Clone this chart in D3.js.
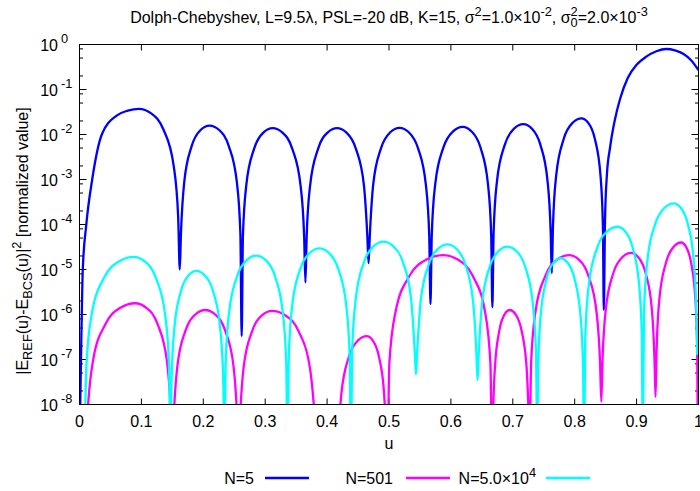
<!DOCTYPE html>
<html><head><meta charset="utf-8">
<script src="https://cdn.jsdelivr.net/npm/d3@7/dist/d3.min.js"></script>
<style>
body{margin:0;background:#fff}
svg{display:block}
text{font-family:"Liberation Sans",Arial,sans-serif;fill:#000}
</style>
</head><body>
<svg id="c" width="700" height="491"></svg>
<script>
// ---------- data ----------
const xTickValues = [0,0.1,0.2,0.3,0.4,0.5,0.6,0.7,0.8,0.9,1];
const xTickLabels = ["0","0.1","0.2","0.3","0.4","0.5","0.6","0.7","0.8","0.9","1"];
const yTickExponents = [0,-1,-2,-3,-4,-5,-6,-7,-8];
const yMinorMantissas = [2,5,8];
const seriesLabels = ["N=5","N=501","N=5.0×10^4"];
const seriesColors = ["#0000ff","#ff00ff","#00ffff"];

// N=5 : [u, |E_REF-E_BCS|^2]
const n5 = [
 [0.0,1e-9],[0.003,3.16e-7],[0.0053,1e-5],[0.011,1e-4],[0.0205,1e-3],[0.036,1e-2],[0.060,2.63e-2],[0.078,3.39e-2],[0.096,3.72e-2],
 [0.1158,2.95e-2],[0.1356,1.29e-2],[0.1521,2.04e-3],[0.1594,1.48e-4],[0.162,1e-5],
 [0.1639,6.31e-5],[0.1692,8.71e-4],[0.1812,5.50e-3],[0.1956,1.26e-2],[0.210,1.58e-2],[0.2256,1.26e-2],[0.2412,5.50e-3],[0.2542,8.71e-4],[0.2599,6.31e-5],[0.262,3.31e-7],
 [0.264,5.50e-5],[0.2695,7.59e-4],[0.282,4.79e-3],[0.297,1.10e-2],[0.312,1.38e-2],[0.3279,1.10e-2],[0.3438,4.79e-3],[0.357,7.59e-4],[0.3629,5.50e-5],[0.365,5.13e-6],
 [0.367,5.50e-5],[0.3727,7.59e-4],[0.3854,4.79e-3],[0.4007,1.10e-2],[0.416,1.38e-2],[0.4313,1.10e-2],[0.4466,4.79e-3],[0.4594,7.59e-4],[0.465,5.50e-5],[0.467,1.38e-5],
 [0.469,5.62e-5],[0.4745,7.76e-4],[0.487,4.90e-3],[0.502,1.12e-2],[0.517,1.41e-2],[0.532,1.12e-2],[0.547,4.90e-3],[0.5595,7.76e-4],[0.565,5.62e-5],[0.567,1.70e-6],
 [0.5691,5.89e-5],[0.5748,8.13e-4],[0.5878,5.13e-3],[0.6034,1.17e-2],[0.619,1.48e-2],[0.6334,1.17e-2],[0.6478,5.13e-3],[0.6598,8.13e-4],[0.6651,5.89e-5],[0.667,1.45e-6],
 [0.669,6.76e-5],[0.6745,9.33e-4],[0.687,5.89e-3],[0.702,1.35e-2],[0.717,1.70e-2],[0.7308,1.35e-2],[0.7446,5.89e-3],[0.7561,9.33e-4],[0.7612,6.76e-5],[0.763,8.32e-6],
 [0.7649,9.12e-5],[0.7702,1.26e-3],[0.7822,7.94e-3],[0.7966,1.82e-2],[0.811,2.29e-2],[0.8218,1.82e-2],[0.8326,7.94e-3],[0.8416,1.26e-3],[0.8456,9.12e-5],[0.847,1.26e-6],
 [0.849,1.26e-4],[0.852,1.26e-3],[0.857,5.01e-3],[0.8645,2.00e-2],[0.8735,6.31e-2],[0.8855,1.78e-1],[0.900,3.55e-1],[0.9156,5.37e-1],[0.932,7.08e-1],[0.948,7.94e-1],
 [0.962,7.41e-1],[0.976,6.17e-1],[0.988,4.47e-1],[1.0,2.69e-1]
];

// N=501
const n501 = [
 [0.010,1e-9],[0.0132,7.08e-9],[0.022,9.77e-8],[0.042,6.17e-7],[0.066,1.41e-6],[0.090,1.78e-6],[0.108,1.41e-6],[0.126,6.17e-7],[0.141,9.77e-8],[0.1476,7.08e-9],[0.150,1e-9],
 [0.1521,5.01e-9],[0.158,6.92e-8],[0.1712,4.37e-7],[0.1871,1e-6],[0.203,1.26e-6],[0.2192,1e-6],[0.2354,4.37e-7],[0.2489,6.92e-8],[0.2548,5.01e-9],[0.257,1e-9],
 [0.2592,4.79e-9],[0.2651,6.61e-8],[0.2786,4.17e-7],[0.2948,9.55e-7],[0.311,1.20e-6],[0.3326,9.55e-7],[0.3542,4.17e-7],[0.3722,6.61e-8],[0.3801,4.79e-9],[0.383,1e-9],
 [0.416,3.16e-10],[0.4179,1.32e-9],[0.4232,1.82e-8],[0.4352,1.15e-7],[0.4496,2.63e-7],[0.464,3.31e-7],[0.4739,2.63e-7],[0.4838,1.15e-7],[0.492,1.82e-8],[0.4957,1.32e-9],[0.497,3.16e-10],
 [0.5006,8.32e-8],[0.5106,1.15e-6],[0.5332,7.24e-6],[0.5604,1.66e-5],[0.5876,2.09e-5],[0.6114,1.66e-5],[0.6352,7.24e-6],[0.6551,1.15e-6],[0.6638,8.32e-8],[0.667,3.16e-10],
 [0.6681,5.01e-9],[0.6712,6.92e-8],[0.6782,4.37e-7],[0.6866,1e-6],[0.695,1.26e-6],[0.7046,1e-6],[0.7142,4.37e-7],[0.7222,6.92e-8],[0.7257,5.01e-9],[0.727,1e-9],
 [0.7296,8.32e-8],[0.7366,1.15e-6],[0.7526,7.24e-6],[0.7718,1.66e-5],[0.791,2.09e-5],[0.8066,1.66e-5],[0.8222,7.24e-6],[0.8352,1.15e-6],[0.841,8.32e-8],[0.843,1.15e-8],
 [0.8449,9.33e-8],[0.8502,1.29e-6],[0.8622,8.13e-6],[0.8766,1.86e-5],[0.891,2.34e-5],[0.9029,1.86e-5],[0.9148,8.13e-6],[0.9247,1.29e-6],[0.929,9.33e-8],[0.9306,1.48e-8],
 [0.9323,1.58e-7],[0.9368,2.19e-6],[0.9472,1.38e-5],[0.9596,3.16e-5],[0.972,3.98e-5],[0.9801,3.16e-5],[0.9882,1.38e-5],[0.995,2.19e-6],[0.9979,1.58e-7],[0.999,1e-9]
];

// N=5.0x10^4
const n5e4 = [
 [0.008,1e-9],[0.0112,7.59e-8],[0.0199,1.05e-6],[0.0398,6.61e-6],[0.0637,1.51e-5],[0.0876,1.91e-5],[0.1054,1.51e-5],[0.1232,6.61e-6],[0.1381,1.05e-6],[0.1446,7.59e-8],[0.147,1e-9],
 [0.1487,3.72e-8],[0.1533,5.13e-7],[0.1637,3.24e-6],[0.1762,7.41e-6],[0.1887,9.33e-6],[0.2023,7.41e-6],[0.2159,3.24e-6],[0.2272,5.13e-7],[0.2322,3.72e-8],[0.234,1e-9],
 [0.2361,8.13e-8],[0.2417,1.12e-6],[0.2546,7.08e-6],[0.2701,1.62e-5],[0.2855,2.04e-5],[0.3007,1.62e-5],[0.3158,7.08e-6],[0.3284,1.12e-6],[0.3340,8.13e-8],[0.336,1e-9],
 [0.3381,1.17e-7],[0.3437,1.62e-6],[0.3566,1.02e-5],[0.3721,2.34e-5],[0.3876,2.95e-5],[0.4029,2.34e-5],[0.4181,1.02e-5],[0.4309,1.62e-6],[0.4365,1.17e-7],[0.4385,1e-9],
 [0.4406,1.66e-7],[0.4464,2.29e-6],[0.4595,1.45e-5],[0.4753,3.31e-5],[0.491,4.17e-5],[0.5068,3.31e-5],[0.5225,1.45e-5],[0.5356,2.29e-6],[0.5414,1.66e-7],[0.5435,4.68e-8],
 [0.5455,1.45e-7],[0.5512,2.00e-6],[0.5639,1.26e-5],[0.5793,2.88e-5],[0.5946,3.63e-5],[0.6091,2.88e-5],[0.6236,1.26e-5],[0.6357,2.00e-6],[0.6411,1.45e-7],[0.643,3.47e-8],
 [0.6449,1.29e-7],[0.6503,1.78e-6],[0.6624,1.12e-5],[0.6769,2.57e-5],[0.6914,3.24e-5],[0.7058,2.57e-5],[0.7203,1.12e-5],[0.7323,1.78e-6],[0.7376,1.29e-7],[0.7395,1e-9],
 [0.741,7.08e-8],[0.7451,9.77e-7],[0.7545,6.17e-6],[0.7658,1.41e-5],[0.777,1.78e-5],[0.7884,1.41e-5],[0.7998,6.17e-6],[0.8093,9.77e-7],[0.8135,7.08e-8],[0.815,1e-9],
 [0.8172,3.55e-7],[0.8231,4.90e-6],[0.8366,3.09e-5],[0.8528,7.08e-5],[0.869,8.91e-5],[0.8813,7.08e-5],[0.8936,3.09e-5],[0.9039,4.90e-6],[0.9084,3.55e-7],[0.910,1e-9],
 [0.912,1.17e-6],[0.9175,1.62e-5],[0.930,1.02e-4],[0.945,2.34e-4],[0.960,2.95e-4],[0.9714,2.34e-4],[0.9828,1.02e-4],[0.9923,1.62e-5],[0.9965,1.17e-6],[0.998,1.26e-7]
];
const seriesData = [n5, n501, n5e4];

// ---------- layout ----------
const svg = d3.select("#c");
const L = 79.5, R = 698.5, T = 44.5, B = 404.5;
const FS = 16;
const x = d3.scaleLinear().domain([0,1]).range([L,R]);
const y = d3.scaleLog().domain([1e-8,1]).range([B,T]);

function rich(g, px, py, parts, anchor, size, rotate) {
  const t = g.append("text").attr("x",px).attr("y",py).attr("font-size",size).attr("text-anchor",anchor);
  if (rotate) t.attr("transform",`rotate(${rotate},${px},${py})`);
  let cur = 0;
  parts.forEach(p => {
    const target = p.s==="sup" ? -0.45*size : p.s==="sub" ? 0.28*size : 0;
    const ts = t.append("tspan").text(p.t);
    if (target-cur !== 0) ts.attr("dy", target-cur);
    if (p.s) ts.attr("font-size", size*0.8);
    if (p.dx) ts.attr("dx", p.dx);
    cur = target;
  });
  return t;
}

// clip
svg.append("defs").append("clipPath").attr("id","clip")
  .append("rect").attr("x",L).attr("y",T).attr("width",R-L).attr("height",B-T);

// ticks
const tk = svg.append("g").attr("stroke","#000").attr("stroke-width",1);
xTickValues.forEach(v => {
  tk.append("line").attr("x1",x(v)).attr("x2",x(v)).attr("y1",B).attr("y2",B-6);
  tk.append("line").attr("x1",x(v)).attr("x2",x(v)).attr("y1",T).attr("y2",T+6);
});
yTickExponents.forEach(e => {
  const py = y(Math.pow(10,e));
  tk.append("line").attr("x1",L).attr("x2",L+7).attr("y1",py).attr("y2",py);
  tk.append("line").attr("x1",R).attr("x2",R-7).attr("y1",py).attr("y2",py);
  if (e < 0) {
    yMinorMantissas.forEach(m => {
      const pm = y(m*Math.pow(10,e));
      tk.append("line").attr("x1",L).attr("x2",L+3.5).attr("y1",pm).attr("y2",pm);
      tk.append("line").attr("x1",R).attr("x2",R-3.5).attr("y1",pm).attr("y2",pm);
    });
  }
});

// series
const line = d3.line().x(d=>x(d[0])).y(d=>y(d[1])).curve(d3.curveMonotoneX);
const sg = svg.append("g").attr("clip-path","url(#clip)");
seriesData.forEach((data,i) => {
  sg.append("path").attr("d", line(data)).attr("fill","none")
    .attr("stroke", seriesColors[i]).attr("stroke-width",2.3).attr("stroke-linejoin","round");
});

// frame
svg.append("rect").attr("x",L).attr("y",T).attr("width",R-L).attr("height",B-T)
  .attr("fill","none").attr("stroke","#000").attr("stroke-width",1);

// tick labels
const lab = svg.append("g");
xTickValues.forEach((v,i) => {
  lab.append("text").attr("x",x(v)).attr("y",B+22).attr("font-size",FS)
    .attr("text-anchor","middle").text(xTickLabels[i]);
});
yTickExponents.forEach(e => {
  const py = y(Math.pow(10,e));
  lab.append("text").attr("x",58).attr("y",py+6).attr("font-size",FS).attr("text-anchor","end").text("10");
  lab.append("text").attr("x",61).attr("y",py-1.5).attr("font-size",FS*0.8).attr("text-anchor","start").text(e===0?"0":"-"+(-e));
});

// axis titles
lab.append("text").attr("x",(L+R)/2).attr("y",449).attr("font-size",FS).attr("text-anchor","middle").text("u");
rich(lab, 28, 241, [
  {t:"|E"},{t:"REF",s:"sub"},{t:"(u)-E"},{t:"BCS",s:"sub"},{t:"(u)|"},{t:"2",s:"sup"},{t:" [normalized value]"}
], "middle", FS, -90);

// title
const TS = 16;
const tt = lab.append("text").attr("x",(L+R)/2).attr("y",23).attr("font-size",TS).attr("text-anchor","middle");
(function(){
  const s = TS, sup=-7, sub=4;
  tt.append("tspan").text("Dolph-Chebyshev, L=9.5λ, PSL=-20 dB, K=15, σ");
  tt.append("tspan").text("2").attr("font-size",s*0.8).attr("dy",sup);
  tt.append("tspan").text("=1.0×10").attr("dy",-sup);
  tt.append("tspan").text("-2").attr("font-size",s*0.8).attr("dy",sup);
  tt.append("tspan").text(", σ").attr("dy",-sup);
  tt.append("tspan").text("0").attr("font-size",s*0.8).attr("dy",sub);
  tt.append("tspan").text("2").attr("font-size",s*0.8).attr("dy",sup-sub).attr("dx",-s*0.8*0.556);
  tt.append("tspan").text("=2.0×10").attr("dy",-sup);
  tt.append("tspan").text("-3").attr("font-size",s*0.8).attr("dy",sup);
})();

// legend
const legendTextEnd = [254, 393, 536];
const legendLineStart = [265, 406, 546];
const legendLen = 44, legendY = 478;
seriesLabels.forEach((name,i) => {
  if (name.indexOf("^")>=0) {
    const [a,b] = name.split("^");
    rich(lab, legendTextEnd[i], legendY+6, [{t:a},{t:b,s:"sup"}], "end", FS);
  } else {
    lab.append("text").attr("x",legendTextEnd[i]).attr("y",legendY+6).attr("font-size",FS).attr("text-anchor","end").text(name);
  }
  lab.append("line").attr("x1",legendLineStart[i]).attr("x2",legendLineStart[i]+legendLen)
    .attr("y1",legendY).attr("y2",legendY).attr("stroke",seriesColors[i]).attr("stroke-width",2.3);
});
</script>
</body></html>
